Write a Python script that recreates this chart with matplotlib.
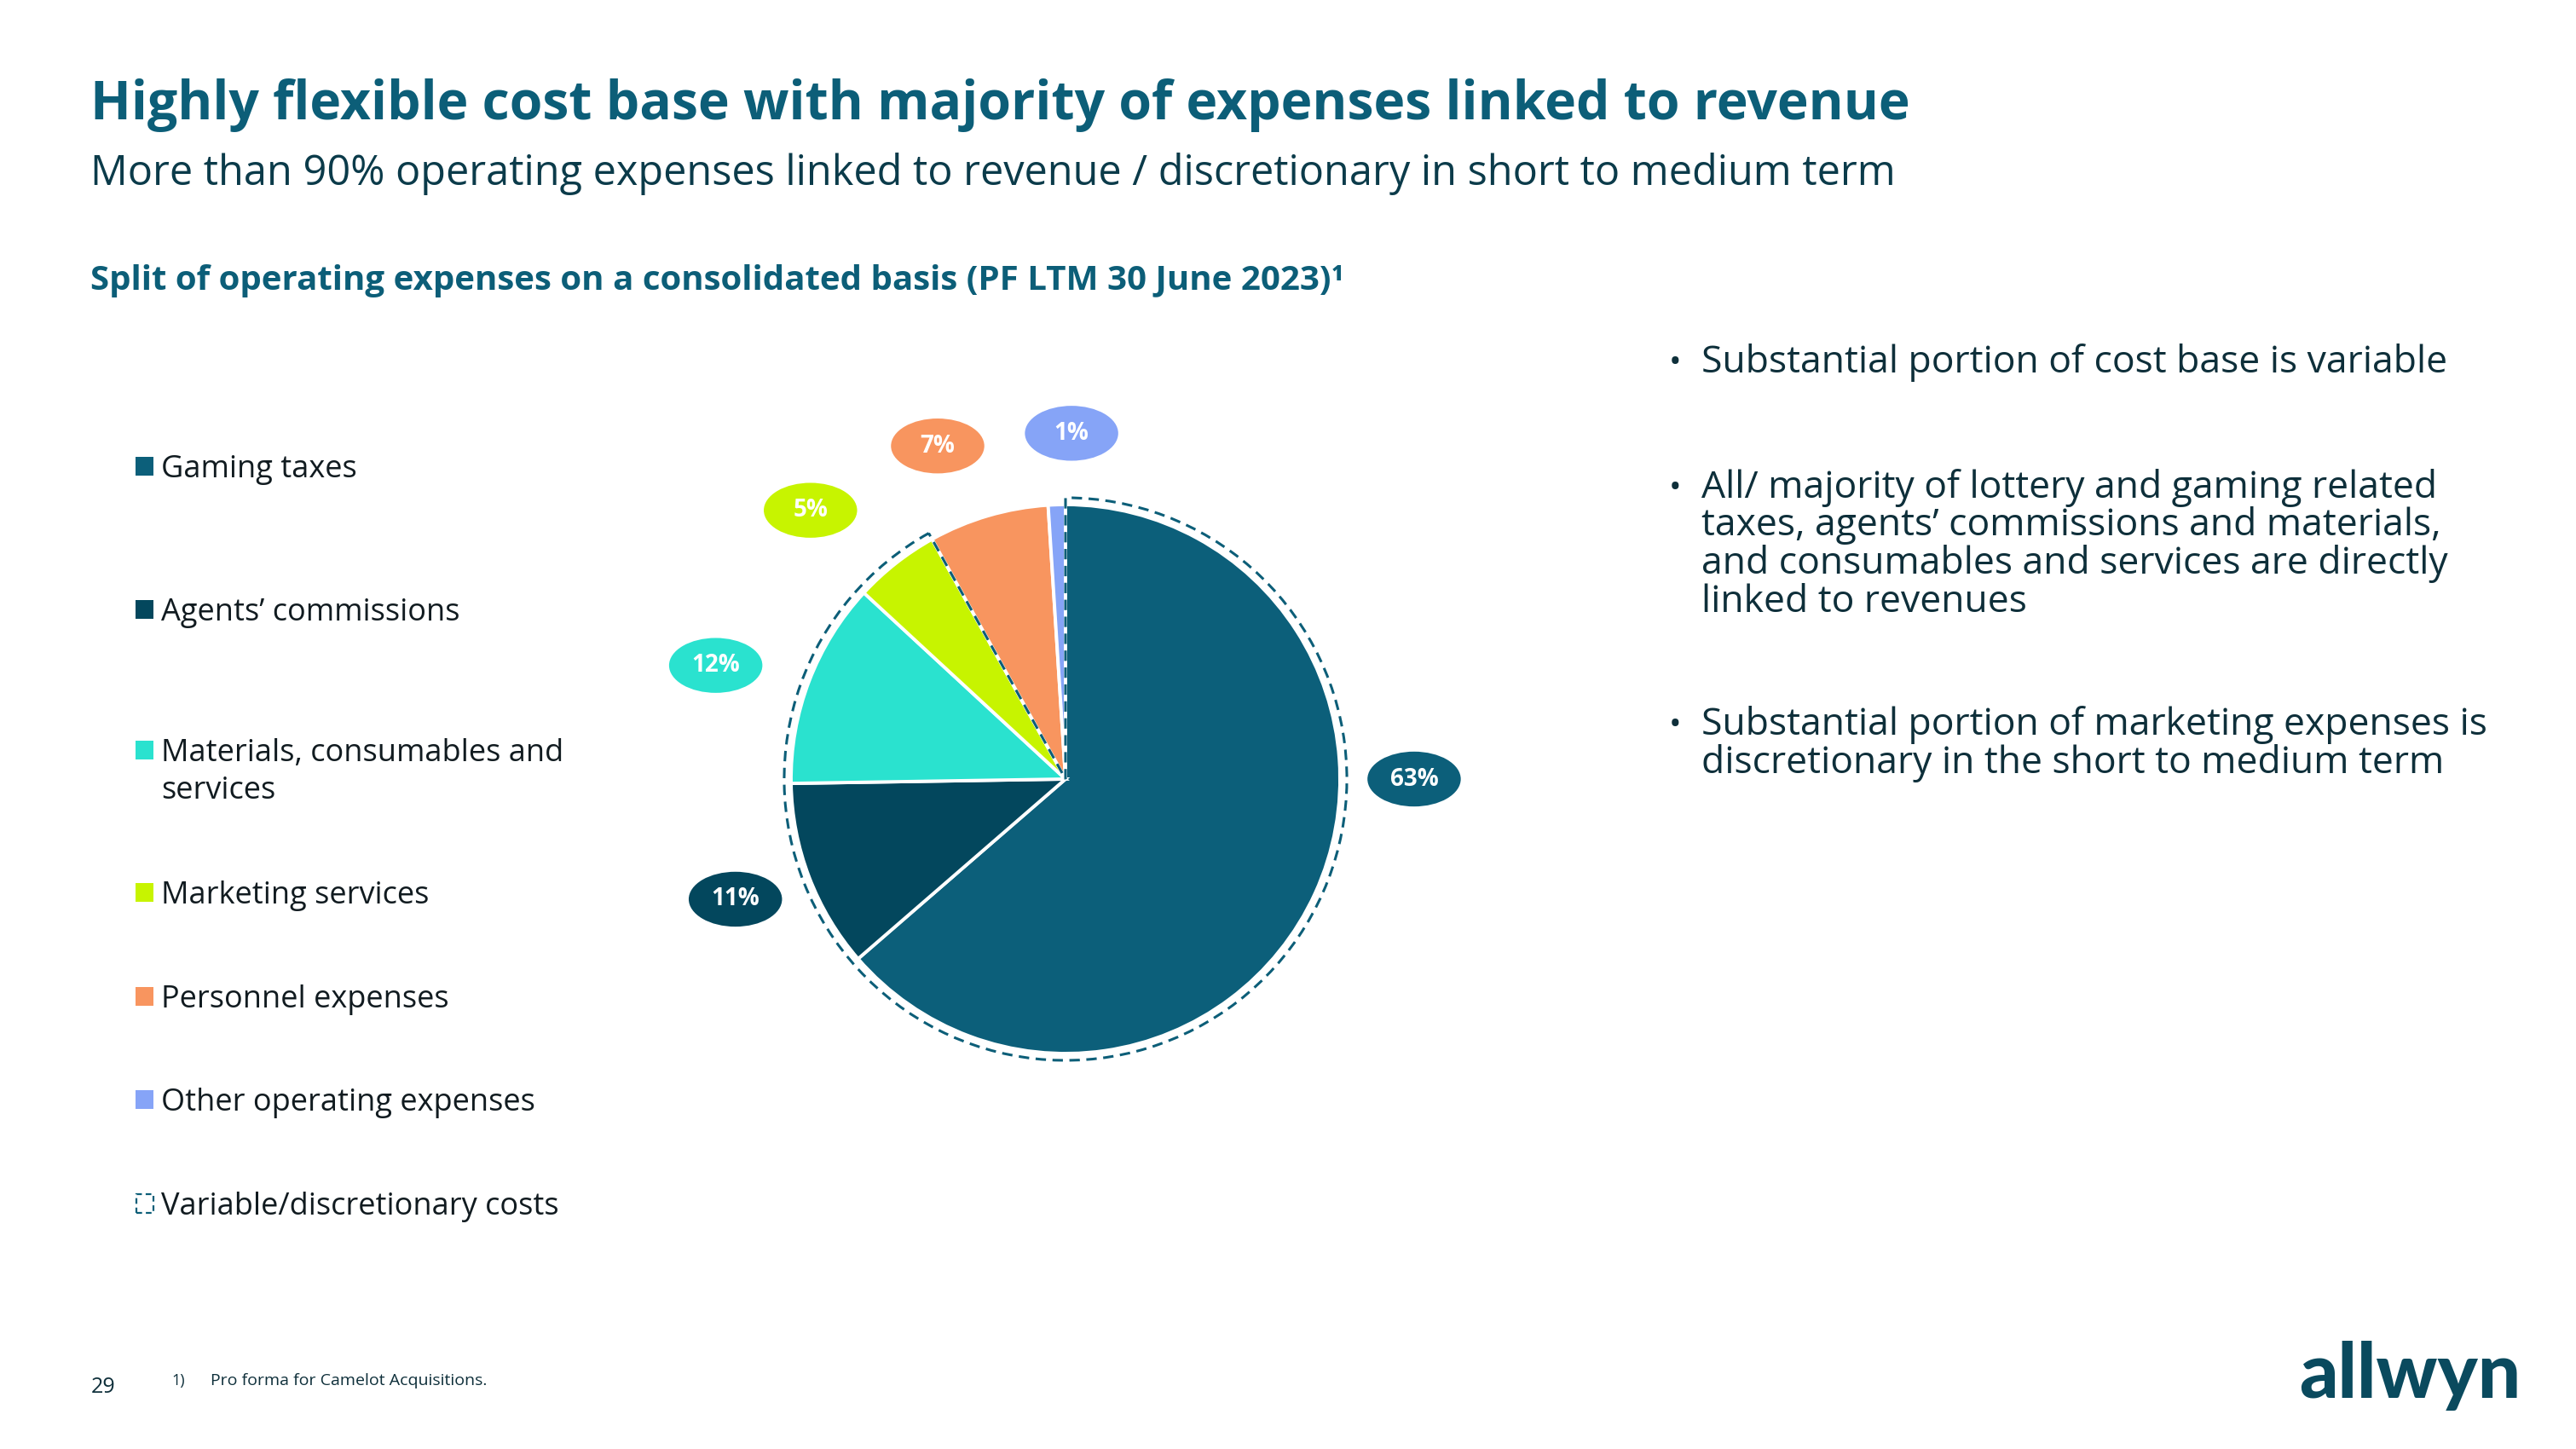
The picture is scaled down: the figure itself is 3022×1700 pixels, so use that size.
import matplotlib
matplotlib.use("Agg")
import matplotlib.pyplot as plt
from matplotlib.patches import Ellipse, Wedge, Rectangle
import numpy as np

plt.rcParams['font.family'] = ['Open Sans', 'DejaVu Sans']

# data
categories = ["Gaming taxes", "Agents’ commissions", "Materials, consumables and\nservices",
              "Marketing services", "Personnel expenses", "Other operating expenses"]
shares = [63, 11, 12, 5, 7, 1]
share_labels = ["63%", "11%", "12%", "5%", "7%", "1%"]
colors = ["#0C5F7A", "#03475D", "#2AE2CF", "#C7F400", "#F8955F", "#86A4F7"]
n_variable = 4  # first four slices are variable / discretionary

title = "Highly flexible cost base with majority of expenses linked to revenue"
subtitle = "More than 90% operating expenses linked to revenue / discretionary in short to medium term"
chart_heading = "Split of operating expenses on a consolidated basis (PF LTM 30 June 2023)¹"
bullets = [
    ["Substantial portion of cost base is variable"],
    ["All/ majority of lottery and gaming related",
     "taxes, agents’ commissions and materials,",
     "and consumables and services are directly",
     "linked to revenues"],
    ["Substantial portion of marketing expenses is",
     "discretionary in the short to medium term"],
]

TEAL = "#0C5E78"
DARK = "#0E2F3A"

W, H = 3022, 1700
fig = plt.figure(figsize=(W / 100, H / 100), dpi=100)
fig.patch.set_facecolor("white")


def fx(x):
    return x / W


def fy(y):
    return 1 - y / H


# headings
fig.text(fx(106), fy(140), title, fontsize=45, fontweight="bold", color=TEAL, va="baseline")
fig.text(fx(106), fy(217), subtitle, fontsize=35, color="#0B3B4A", va="baseline")
fig.text(fx(106), fy(340), chart_heading, fontsize=29, fontweight="bold",
         color=TEAL, va="baseline")

# pie
cx, cy, r = 1250, 914, 322
span = 1.6
ax = fig.add_axes([fx(cx - span * r), fy(cy + span * r), 2 * span * r / W, 2 * span * r / H])
wedges, _ = ax.pie(shares, colors=colors, startangle=90, counterclock=False, radius=1,
                   wedgeprops=dict(edgecolor="white", linewidth=2.8))
ax.set_xlim(-span, span)
ax.set_ylim(-span, span)
ax.set_aspect("equal")
ax.axis("off")

# dashed outline around variable/discretionary slices
t1 = wedges[n_variable - 1].theta1
t2 = wedges[0].theta2
ax.add_patch(Wedge((0, 0), 1.025, t1, t2, fill=False, edgecolor=TEAL,
                   linestyle=(0, (4, 2.5)), linewidth=2.2, zorder=5))

# label bubbles (angle in degrees, distance in radii)
label_pos = [(0, 1.27), (200, 1.28), (162, 1.34), (133.5, 1.35), (111, 1.30), (89, 1.26)]
for lab, col, (ang, dist) in zip(share_labels, colors, label_pos):
    x = dist * np.cos(np.radians(ang))
    y = dist * np.sin(np.radians(ang))
    ax.add_patch(Ellipse((x, y), 0.34, 0.20, facecolor=col, edgecolor="none", zorder=6))
    ax.text(x, y, lab, ha="center", va="center", fontsize=20, fontweight="bold",
            color="white", zorder=7)

# legend
legend_base = [560, 728, 893, 1060, 1182, 1303, 1425]
for cat, col, yb in zip(categories, colors, legend_base):
    fig.patches.append(Rectangle((fx(159), fy(yb - 2)), 21 / W, 22 / H, facecolor=col,
                                 edgecolor="none", transform=fig.transFigure))
    lines = cat.split("\n")
    for k, line in enumerate(lines):
        fig.text(fx(189), fy(yb + 44 * k), line, fontsize=26, color="#111B20", va="baseline")
yb = legend_base[-1]
fig.patches.append(Rectangle((fx(160), fy(yb - 2)), 20 / W, 22 / H, facecolor="none",
                             edgecolor=TEAL, linestyle=(0, (3, 2)), linewidth=1.6,
                             transform=fig.transFigure))
fig.text(fx(189), fy(yb), "Variable/discretionary costs", fontsize=26, color="#111B20",
         va="baseline")

# bullets
bullet_base = [437, 584, 862]
for lines, yb in zip(bullets, bullet_base):
    fig.text(fx(1958), fy(yb), "•", fontsize=28, color=DARK, va="baseline")
    for k, line in enumerate(lines):
        fig.text(fx(1996), fy(yb + 44.5 * k), line, fontsize=32, color=DARK, va="baseline")

# footer
fig.text(fx(107), fy(1634), "29", fontsize=18, color=DARK, va="baseline")
fig.text(fx(201), fy(1625), "1)", fontsize=13, color=DARK, va="baseline")
fig.text(fx(247), fy(1625), "Pro forma for Camelot Acquisitions.", fontsize=14, color=DARK,
         va="baseline")
fig.text(fx(2957), fy(1640), "allwyn", fontsize=64, fontweight="black", color="#0A4A5E",
         ha="right", va="baseline", family=["Lato", "DejaVu Sans"])

fig.savefig("out.png", dpi=100, facecolor="white")
